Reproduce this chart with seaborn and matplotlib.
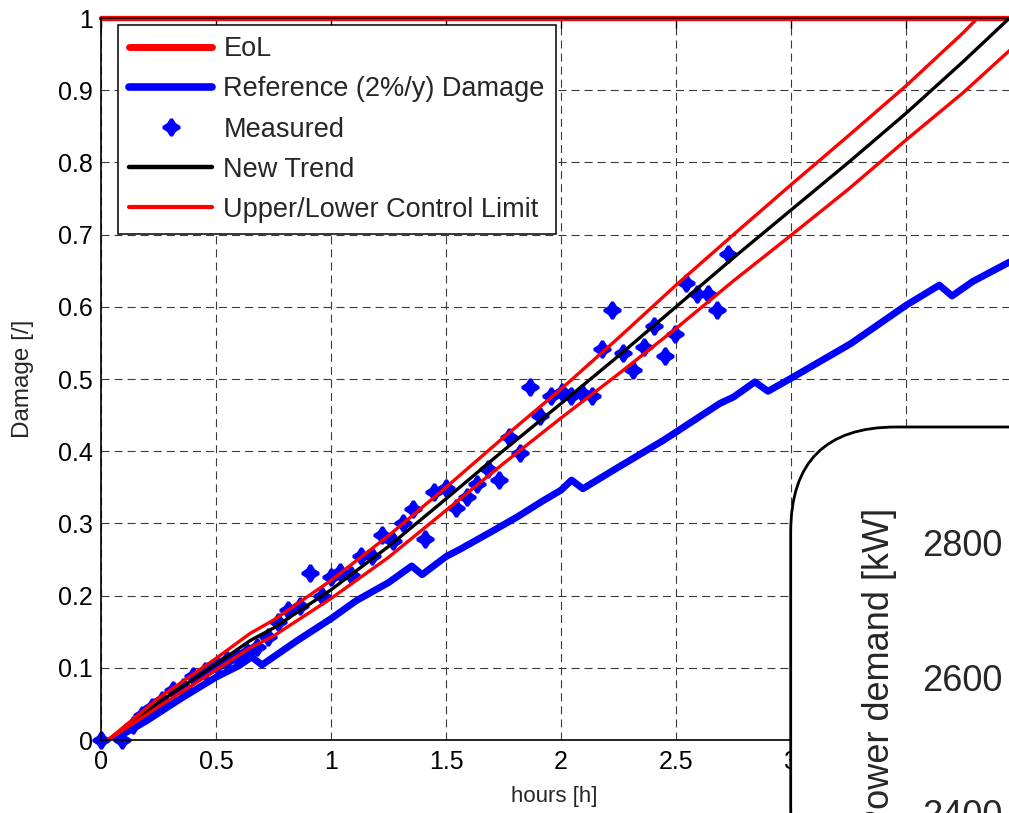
import matplotlib
matplotlib.use("Agg")
import matplotlib.pyplot as plt
import seaborn as sns
from matplotlib.path import Path
from matplotlib.lines import Line2D
from matplotlib.patches import FancyBboxPatch

# ---------------- data ----------------
eol_hours = [0.0, 4.0]
eol_damage = [1.0, 1.0]

ref_hours = [0.05, 0.20, 0.35, 0.50, 0.60, 0.655, 0.70, 0.85, 1.00, 1.11, 1.25, 1.351,
             1.396, 1.50, 1.56, 1.70, 1.81, 1.92, 2.00, 2.046, 2.095, 2.24, 2.445, 2.69,
             2.75, 2.843, 2.90, 3.00, 3.26, 3.50, 3.645, 3.70, 3.79, 3.95]
ref_damage = [0.0, 0.027, 0.058, 0.087, 0.103, 0.115, 0.104, 0.137, 0.168, 0.193, 0.218, 0.241,
              0.229, 0.254, 0.264, 0.289, 0.309, 0.331, 0.346, 0.360, 0.348, 0.376, 0.415, 0.466,
              0.475, 0.496, 0.483, 0.501, 0.549, 0.602, 0.630, 0.615, 0.635, 0.662]

trend_hours = [0.03, 0.25, 0.50, 0.65, 0.75, 1.00, 1.25, 1.50, 1.75, 2.00, 2.25, 2.50,
               2.75, 3.00, 3.25, 3.50, 3.75, 3.95]
trend_damage = [0.0, 0.052, 0.105, 0.138, 0.155, 0.208, 0.268, 0.334, 0.401, 0.466, 0.532, 0.600,
                0.668, 0.734, 0.800, 0.868, 0.940, 1.0]
ucl_damage = [0.0, 0.058, 0.113, 0.148, 0.166, 0.221, 0.283, 0.350, 0.419, 0.486, 0.557, 0.630,
              0.700, 0.769, 0.837, 0.906, 0.980, 1.045]
lcl_damage = [0.0, 0.046, 0.097, 0.128, 0.144, 0.196, 0.253, 0.318, 0.383, 0.446, 0.507, 0.570,
              0.636, 0.699, 0.763, 0.831, 0.897, 0.955]

meas_hours = [0.0, 0.09, 0.14, 0.177, 0.22, 0.264, 0.314, 0.358, 0.401, 0.452, 0.503, 0.546,
              0.59, 0.633, 0.677, 0.728, 0.771, 0.814, 0.865, 0.909, 0.96, 1.0, 1.039, 1.087,
              1.13, 1.177, 1.22, 1.268, 1.314, 1.358, 1.409, 1.449, 1.5, 1.543, 1.59, 1.636,
              1.684, 1.732, 1.775, 1.822, 1.865, 1.909, 1.957, 2.003, 2.042, 2.09, 2.133, 2.177,
              2.22, 2.268, 2.315, 2.362, 2.406, 2.454, 2.497, 2.543, 2.59, 2.64, 2.68, 2.727]
meas_damage = [0.0, 0.0, 0.021, 0.035, 0.046, 0.055, 0.069, 0.074, 0.088, 0.095, 0.104, 0.111,
               0.115, 0.122, 0.129, 0.143, 0.164, 0.18, 0.185, 0.231, 0.2, 0.226, 0.232, 0.228,
               0.255, 0.255, 0.284, 0.275, 0.301, 0.32, 0.279, 0.344, 0.349, 0.322, 0.336, 0.355,
               0.375, 0.360, 0.419, 0.398, 0.489, 0.449, 0.477, 0.482, 0.477, 0.48, 0.477, 0.542,
               0.596, 0.536, 0.512, 0.545, 0.573, 0.532, 0.562, 0.633, 0.618, 0.618, 0.596, 0.673]

x_ticks = [0, 0.5, 1, 1.5, 2, 2.5, 3, 3.5, 4]
x_ticklabels = ['0', '0.5', '1', '1.5', '2', '2.5', '3', '3.5', '4']
y_ticks = [0, 0.1, 0.2, 0.3, 0.4, 0.5, 0.6, 0.7, 0.8, 0.9, 1.0]
y_ticklabels = ['0', '0.1', '0.2', '0.3', '0.4', '0.5', '0.6', '0.7', '0.8', '0.9', '1']
legend_labels = ['EoL', 'Reference (2%/y) Damage', 'Measured', 'New Trend',
                 'Upper/Lower Control Limit']
inset_ticks = [2400, 2600, 2800]
inset_ticklabels = ['2400', '2600', '2800']

# ---------------- style ----------------
sns.set_style("white")
plt.rcParams['font.family'] = ['Liberation Sans', 'DejaVu Sans']
plt.rcParams['lines.scale_dashes'] = False

W, H = 1009, 813
fig = plt.figure(figsize=(W / 100, H / 100), dpi=100)


def fx(px):
    return px / W


def fy(py):
    return 1 - py / H


ax = fig.add_axes([fx(101), fy(740), 920 / W, 722 / H])

star = Path([(-0.12, 1), (0.12, 1), (0.46, 0.46), (1, 0.12), (1, -0.12), (0.46, -0.46),
             (0.12, -1), (-0.12, -1), (-0.46, -0.46), (-1, -0.12), (-1, 0.12), (-0.46, 0.46),
             (-0.12, 1)], closed=True)

RED, BLUE = '#ff0000', '#0000ff'

sns.lineplot(x=eol_hours, y=eol_damage, color=RED, linewidth=3.8, sort=False,
             estimator=None, ax=ax, legend=False)
ax.lines[-1].set_clip_on(False)
sns.lineplot(x=ref_hours, y=ref_damage, color=BLUE, linewidth=5, sort=False,
             estimator=None, ax=ax, legend=False)
sns.scatterplot(x=meas_hours, y=meas_damage, marker=star, s=150, color=BLUE,
                edgecolor=BLUE, linewidth=0.8, ax=ax, legend=False, zorder=2.2)
ax.collections[-1].set_clip_on(False)
sns.lineplot(x=trend_hours, y=trend_damage, color='black', linewidth=2.4, sort=False,
             estimator=None, ax=ax, legend=False, zorder=2.3)
sns.lineplot(x=trend_hours, y=ucl_damage, color=RED, linewidth=2.4, sort=False,
             estimator=None, ax=ax, legend=False, zorder=2.3)
sns.lineplot(x=trend_hours, y=lcl_damage, color=RED, linewidth=2.4, sort=False,
             estimator=None, ax=ax, legend=False, zorder=2.3)

ax.set_xlim(0, 4)
ax.set_ylim(0, 1)
ax.set_xticks(x_ticks)
ax.set_xticklabels(x_ticklabels)
ax.set_yticks(y_ticks)
ax.set_yticklabels(y_ticklabels)
ax.set_axisbelow(True)
ax.grid(True, color='#3a3a3a', linestyle=(0, (5.8, 3.6)), linewidth=0.8)
ax.tick_params(axis='both', direction='in', length=7, width=1, top=True, right=True,
               labelsize=18, colors='black')
ax.tick_params(axis='x', pad=7)
ax.tick_params(axis='y', pad=6)
for sp in ax.spines.values():
    sp.set_linewidth(1.2)
    sp.set_color('black')

ax.set_xlabel('hours [h]', fontsize=16)
ax.xaxis.set_label_coords((554 - 101) / 920, (740 - 786) / 722)
ax.set_ylabel('Damage [/]', fontsize=17.5)
ax.yaxis.set_label_coords((34 - 101) / 920, 0.5)

handles = [
    Line2D([], [], color=RED, lw=5),
    Line2D([], [], color=BLUE, lw=5.5),
    Line2D([], [], color=BLUE, lw=0, marker=star, markersize=12),
    Line2D([], [], color='black', lw=3.2),
    Line2D([], [], color=RED, lw=3.0),
]
leg = ax.legend(handles, legend_labels, loc='upper left',
                bbox_to_anchor=(fx(118), fy(25)), bbox_transform=fig.transFigure,
                fontsize=19.5, frameon=True, fancybox=False, edgecolor='black',
                framealpha=1, borderpad=0.42, labelspacing=0.52, handlelength=3.05,
                handletextpad=0.42, borderaxespad=0)
leg.get_frame().set_linewidth(1.1)

# ---------------- overlapping inset panel (cropped) ----------------
box = FancyBboxPatch((7.907, -1.0), 4.0, 3.86 + 1.0,
                     boxstyle="round,pad=0,rounding_size=1.05",
                     transform=fig.dpi_scale_trans, facecolor='white',
                     edgecolor='black', linewidth=2, zorder=5)
fig.add_artist(box)

ax2 = fig.add_axes([fx(1012), fy(975), 0.3, (975 - 440) / H], zorder=6)
ax2.patch.set_visible(False)
for sp in ax2.spines.values():
    sp.set_visible(False)
ax2.set_ylim(2800 - (975 - 542) / 0.675, 2800 + (542 - 440) / 0.675)
ax2.set_yticks(inset_ticks)
ax2.set_yticklabels(inset_ticklabels)
ax2.set_xticks([])
ax2.tick_params(axis='y', length=0, pad=7, labelsize=26)
ax2.set_ylabel('Power demand [kW]', fontsize=26, ha='right')
ax2.yaxis.set_label_coords((897 - 1012) / (0.3 * W), (975 - 508) / 535)

fig.savefig('out.png', dpi=100)
